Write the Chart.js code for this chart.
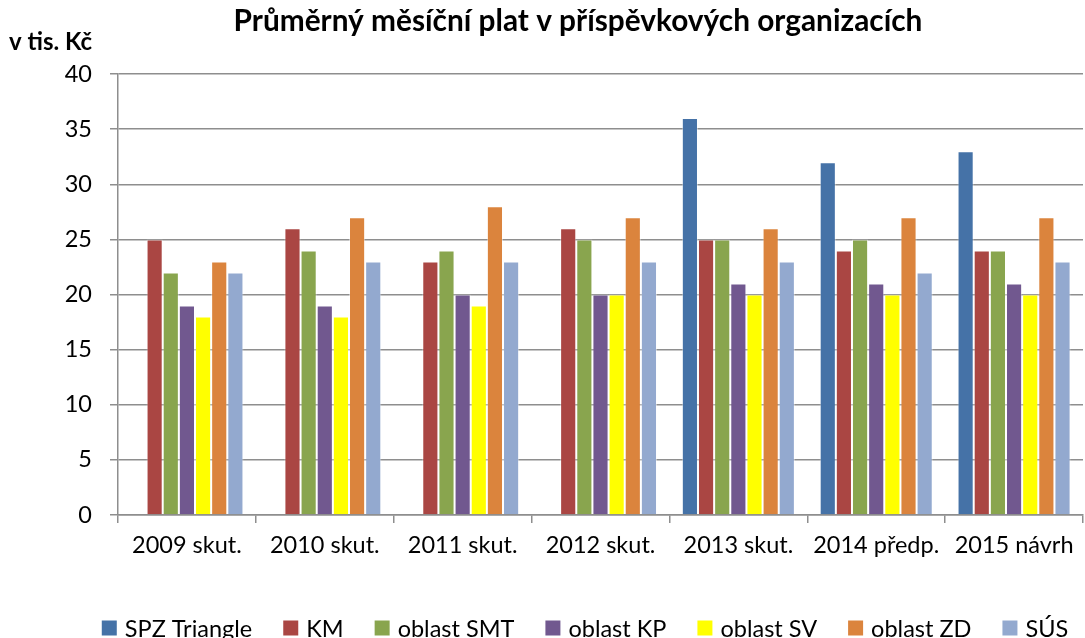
<!DOCTYPE html>
<html>
<head>
<meta charset="utf-8">
<script src="https://cdn.jsdelivr.net/npm/chart.js@4/dist/chart.umd.min.js"></script>
<style>
  html, body { margin: 0; padding: 0; background: #fff; }
  #wrap { position: relative; width: 1085px; height: 638px; }
</style>
</head>
<body>
<div id="wrap"><canvas id="chart" width="1085" height="638"></canvas></div>
<script>
const categories = ['2009 skut.', '2010 skut.', '2011 skut.', '2012 skut.', '2013 skut.', '2014 předp.', '2015 návrh'];
const seriesNames = ['SPZ Triangle', 'KM', 'oblast SMT', 'oblast KP', 'oblast SV', 'oblast ZD', 'SÚS'];
const spzTriangle = [null, null, null, null, 36, 32, 33];
const km = [25, 26, 23, 26, 25, 24, 24];
const oblastSMT = [22, 24, 24, 25, 25, 25, 24];
const oblastKP = [19, 19, 20, 20, 21, 21, 21];
const oblastSV = [18, 18, 19, 20, 20, 20, 20];
const oblastZD = [23, 27, 28, 27, 26, 27, 27];
const sus = [22, 23, 23, 23, 23, 22, 23];
const colors = ['#4572A7', '#AA4643', '#89A54E', '#71588F', '#FFFF00', '#DB843D', '#93A9CF'];

const FONT = 'Lato, "Open Sans", sans-serif';

// title, unit label and legend drawn on the canvas
const textPlugin = {
  id: 'texts',
  afterDraw(chart) {
    const ctx = chart.ctx;
    ctx.save();
    ctx.fillStyle = '#000';
    ctx.textBaseline = 'alphabetic';
    ctx.font = 'bold 29.8px ' + FONT;
    ctx.textAlign = 'center';
    ctx.fillText('Průměrný měsíční plat v příspěvkových organizacích', 578, 31);
    ctx.font = 'bold 24px ' + FONT;
    ctx.textAlign = 'left';
    ctx.fillText('v tis. Kč', 9, 50);

    // legend
    const box = 15, gap = 8, spacing = 31;
    ctx.font = '23.5px ' + FONT;
    const items = chart.data.datasets.map(ds => ({
      text: ds.label, color: ds.backgroundColor, w: ctx.measureText(ds.label).width
    }));
    let total = items.reduce((s, it) => s + box + gap + it.w, 0) + spacing * (items.length - 1);
    let x = 585 - total / 2;
    const cy = 628;
    ctx.textBaseline = 'middle';
    items.forEach(it => {
      ctx.fillStyle = it.color;
      ctx.fillRect(x, cy - box / 2, box, box);
      x += box + gap;
      ctx.fillStyle = '#000';
      ctx.fillText(it.text, x, cy + 1);
      x += it.w + spacing;
    });
    ctx.restore();
  }
};

const allSeries = [spzTriangle, km, oblastSMT, oblastKP, oblastSV, oblastZD, sus];

new Chart(document.getElementById('chart'), {
  type: 'bar',
  data: {
    labels: categories,
    datasets: allSeries.map((data, i) => ({
      label: seriesNames[i],
      data: data,
      backgroundColor: colors[i],
      borderColor: 'rgba(255,255,255,0.45)',
      borderWidth: 1,
      barPercentage: 1,
      categoryPercentage: 0.82
    }))
  },
  options: {
    responsive: false,
    animation: false,
    layout: { padding: { top: 74, left: 0, right: 2, bottom: 0 } },
    plugins: {
      legend: { display: false },
      title: { display: false },
      tooltip: { enabled: false }
    },
    scales: {
      x: {
        grid: {
          offset: true,
          drawOnChartArea: false,
          drawTicks: true,
          tickLength: 8,
          color: '#8e8e8e',
          lineWidth: 1.5
        },
        border: { color: '#8e8e8e', width: 1.5 },
        ticks: {
          font: { family: FONT, size: 23.5 },
          color: '#000',
          padding: 8,
          maxRotation: 0
        },
        afterFit(scale) { scale.height = 123; }
      },
      y: {
        min: 0,
        max: 40,
        ticks: {
          stepSize: 5,
          font: { family: FONT, size: 23.5 },
          color: '#000',
          padding: 18
        },
        grid: {
          color: '#8e8e8e',
          lineWidth: 1.5,
          tickLength: 8
        },
        border: { color: '#8e8e8e', width: 1.5 },
        afterFit(scale) { scale.width = 118; }
      }
    }
  },
  plugins: [textPlugin]
});
</script>
</body>
</html>
